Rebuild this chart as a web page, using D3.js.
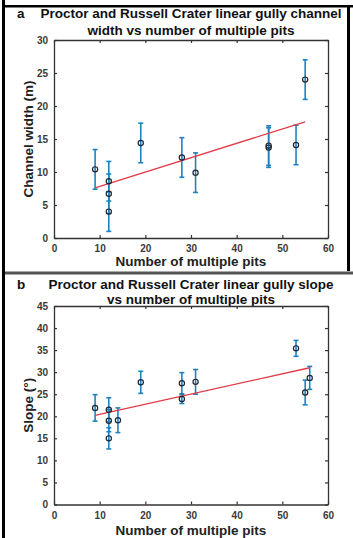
<!DOCTYPE html>
<html>
<head>
<meta charset="utf-8">
<script src="https://cdn.jsdelivr.net/npm/d3@7"></script>
<style>
  body { margin: 0; background: #fff; }
  svg { display: block; font-family: "Liberation Sans", Arial, sans-serif; }
</style>
</head>
<body>
<div id="canvas"></div>
<script>
// data
var pitTicks = [0, 10, 20, 30, 40, 50, 60];
var widthTicks = [0, 5, 10, 15, 20, 25, 30];
var slopeTicks = [0, 5, 10, 15, 20, 25, 30, 35, 40, 45];

var widthPits = [9, 12, 12, 12, 19, 28, 31, 47, 47, 53, 55];
var widthVals = [10.4, 8.6, 6.7, 4.0, 14.4, 12.2, 9.9, 14.0, 13.7, 14.1, 24.0];
var widthErr = [3, 3, 3, 3, 3, 3, 3, 3, 3, 3, 3];
var widthFitX = [9, 55];
var widthFitY = [7.6, 17.6];

var slopePits = [9, 12, 12, 12, 14, 19, 28, 28, 31, 53, 55, 56];
var slopeVals = [21.9, 21.5, 19.0, 15.0, 19.1, 27.7, 27.5, 23.9, 27.8, 35.4, 25.4, 28.7];
var slopeErr = [3.0, 2.7, 2.5, 2.4, 2.8, 2.5, 2.4, 1.0, 2.8, 1.8, 2.8, 2.6];
var slopeFitX = [9, 56];
var slopeFitY = [20.2, 31.0];

var svg = d3.select('#canvas').append('svg')
  .attr('width', 353)
  .attr('height', 538);

// frame lines round the two panels
svg.append('rect').attr('x', 2).attr('y', 0).attr('width', 3).attr('height', 538).attr('fill', '#000');
svg.append('rect').attr('x', 2).attr('y', 5).attr('width', 351).attr('height', 2.5).attr('fill', '#000');
svg.append('rect').attr('x', 347).attr('y', 5).attr('width', 3).attr('height', 266).attr('fill', '#000');
svg.append('rect').attr('x', 5).attr('y', 271.5).attr('width', 348).attr('height', 3).attr('fill', '#555');

function panel(opt) {
  var x = d3.scaleLinear().domain([0, 60]).range([54, 328]);
  var y = d3.scaleLinear().domain([0, opt.ymax]).range([opt.bottom, opt.top]);
  var g = svg.append('g');

  g.append('text').attr('x', 17).attr('y', opt.titleY)
    .attr('font-size', 13.5).attr('font-weight', 'bold').attr('fill', '#111')
    .text(opt.letter);
  opt.title.forEach(function(t, i) {
    g.append('text').attr('x', 191).attr('y', opt.titleY + i * opt.titleGap)
      .attr('text-anchor', 'middle')
      .attr('font-size', 13.5).attr('font-weight', 'bold').attr('fill', '#111')
      .text(t);
  });

  g.append('g').attr('transform', 'translate(0,' + opt.bottom + ')')
    .call(d3.axisBottom(x).tickValues(pitTicks).tickSizeInner(-3).tickSizeOuter(0).tickPadding(7));
  g.append('g').attr('transform', 'translate(0,' + opt.top + ')')
    .call(d3.axisTop(x).tickValues(pitTicks).tickSizeInner(-3).tickSizeOuter(0).tickFormat(''));
  g.append('g').attr('transform', 'translate(54,0)')
    .call(d3.axisLeft(y).tickValues(opt.yTicks).tickSizeInner(-3).tickSizeOuter(0).tickPadding(6));
  g.append('g').attr('transform', 'translate(328,0)')
    .call(d3.axisRight(y).tickValues(opt.yTicks).tickSizeInner(-3).tickSizeOuter(0).tickFormat(''));

  g.selectAll('.domain').attr('stroke', '#333').attr('stroke-width', 1.3);
  g.selectAll('.tick line').attr('stroke', '#333').attr('stroke-width', 1.2);
  g.selectAll('.tick text').attr('font-size', 10).attr('font-weight', 'bold')
    .attr('fill', '#3a3a3a').attr('font-family', '"Liberation Sans", Arial, sans-serif');

  g.append('text').attr('x', 191).attr('y', opt.xLabelY)
    .attr('text-anchor', 'middle').attr('font-size', 13.5).attr('font-weight', 'bold').attr('fill', '#222')
    .text('Number of multiple pits');
  g.append('text')
    .attr('transform', 'translate(33,' + ((opt.top + opt.bottom) / 2) + ') rotate(-90)')
    .attr('text-anchor', 'middle').attr('font-size', 13.5).attr('font-weight', 'bold').attr('fill', '#222')
    .text(opt.yLabel);

  var pts = opt.xs.map(function(d, i) { return { x: d, v: opt.vals[i], e: opt.errs[i] }; });

  var bars = g.selectAll('.err').data(pts).enter().append('g').attr('class', 'err')
    .attr('stroke', '#1f82c0').attr('stroke-width', 1.6);
  bars.append('line')
    .attr('x1', function(d) { return x(d.x); }).attr('x2', function(d) { return x(d.x); })
    .attr('y1', function(d) { return y(d.v - d.e); }).attr('y2', function(d) { return y(d.v + d.e); });
  bars.append('line')
    .attr('x1', function(d) { return x(d.x) - 2.5; }).attr('x2', function(d) { return x(d.x) + 2.5; })
    .attr('y1', function(d) { return y(d.v + d.e); }).attr('y2', function(d) { return y(d.v + d.e); });
  bars.append('line')
    .attr('x1', function(d) { return x(d.x) - 2.5; }).attr('x2', function(d) { return x(d.x) + 2.5; })
    .attr('y1', function(d) { return y(d.v - d.e); }).attr('y2', function(d) { return y(d.v - d.e); });

  var fit = opt.fitX.map(function(d, i) { return [d, opt.fitY[i]]; });
  g.append('path').datum(fit)
    .attr('fill', 'none').attr('stroke', '#e23a48').attr('stroke-width', 1.3)
    .attr('d', d3.line().x(function(d) { return x(d[0]); }).y(function(d) { return y(d[1]); }));

  g.selectAll('.pt').data(pts).enter().append('circle').attr('class', 'pt')
    .attr('cx', function(d) { return x(d.x); })
    .attr('cy', function(d) { return y(d.v); })
    .attr('r', 2.6)
    .attr('fill', 'none').attr('stroke', '#1b2634').attr('stroke-width', 1.2);
}

panel({
  letter: 'a',
  title: ['Proctor and Russell Crater linear gully channel', 'width vs number of multiple pits'],
  titleY: 18, titleGap: 17,
  top: 40, bottom: 238, ymax: 30,
  yTicks: widthTicks, yLabel: 'Channel width (m)', xLabelY: 266,
  xs: widthPits, vals: widthVals, errs: widthErr,
  fitX: widthFitX, fitY: widthFitY
});

panel({
  letter: 'b',
  title: ['Proctor and Russell Crater linear gully slope', 'vs number of multiple pits'],
  titleY: 289, titleGap: 14.5,
  top: 306, bottom: 504.5, ymax: 45,
  yTicks: slopeTicks, yLabel: 'Slope (\u00b0)', xLabelY: 535,
  xs: slopePits, vals: slopeVals, errs: slopeErr,
  fitX: slopeFitX, fitY: slopeFitY
});
</script>
</body>
</html>
